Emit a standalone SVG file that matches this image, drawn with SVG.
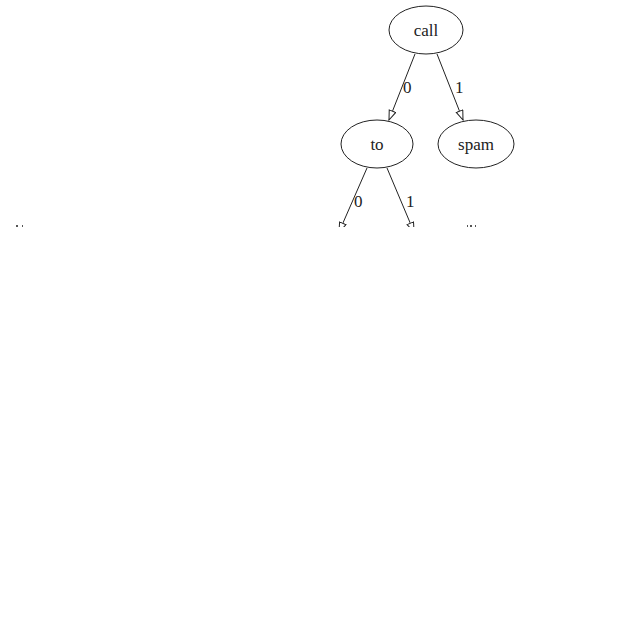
<svg xmlns="http://www.w3.org/2000/svg" width="620" height="632" viewBox="0 0 620 632">
<style>
.n ellipse{fill:none;stroke:#222;stroke-width:1}
text{font-family:"Liberation Serif","Times New Roman",serif;font-size:17px;fill:#222}
.e line{stroke:#222;stroke-width:1}
</style>
<defs>
<marker id="ah" markerWidth="11" markerHeight="9" refX="10" refY="4" orient="auto" markerUnits="userSpaceOnUse">
<path d="M0.5,0.5 L10,4 L0.5,7.5 z" fill="#fff" stroke="#222" stroke-width="1"/>
</marker>
<clipPath id="cp"><rect x="0" y="0" width="620" height="227"/></clipPath>
</defs>
<rect width="620" height="632" fill="#fff"/>
<g clip-path="url(#cp)">
<g class="e" id="edges">
<line x1="415" y1="54" x2="389" y2="120" marker-end="url(#ah)"/>
<line x1="437" y1="54" x2="463" y2="120" marker-end="url(#ah)"/>
<line x1="367" y1="168" x2="339" y2="232" marker-end="url(#ah)"/>
<line x1="387" y1="168" x2="414" y2="232" marker-end="url(#ah)"/>
<text x="403" y="93">0</text>
<text x="455" y="93">1</text>
<text x="354" y="207">0</text>
<text x="406" y="207">1</text>
</g>
<g class="n" id="call"><ellipse cx="426" cy="30" rx="37" ry="24"/><text x="426" y="36" text-anchor="middle">call</text></g>
<g class="n" id="to"><ellipse cx="377" cy="144" rx="36" ry="24"/><text x="377" y="150" text-anchor="middle">to</text></g>
<g class="n" id="spam"><ellipse cx="476" cy="144" rx="38" ry="24"/><text x="476" y="150" text-anchor="middle">spam</text></g>
<g id="marks" fill="#555">
<rect x="16" y="225" width="2" height="2"/><rect x="22" y="225" width="1" height="2"/>
<rect x="467" y="225" width="1" height="2"/><rect x="470" y="225" width="2" height="2"/><rect x="475" y="225" width="1" height="2"/>
</g>
</g>
</svg>
